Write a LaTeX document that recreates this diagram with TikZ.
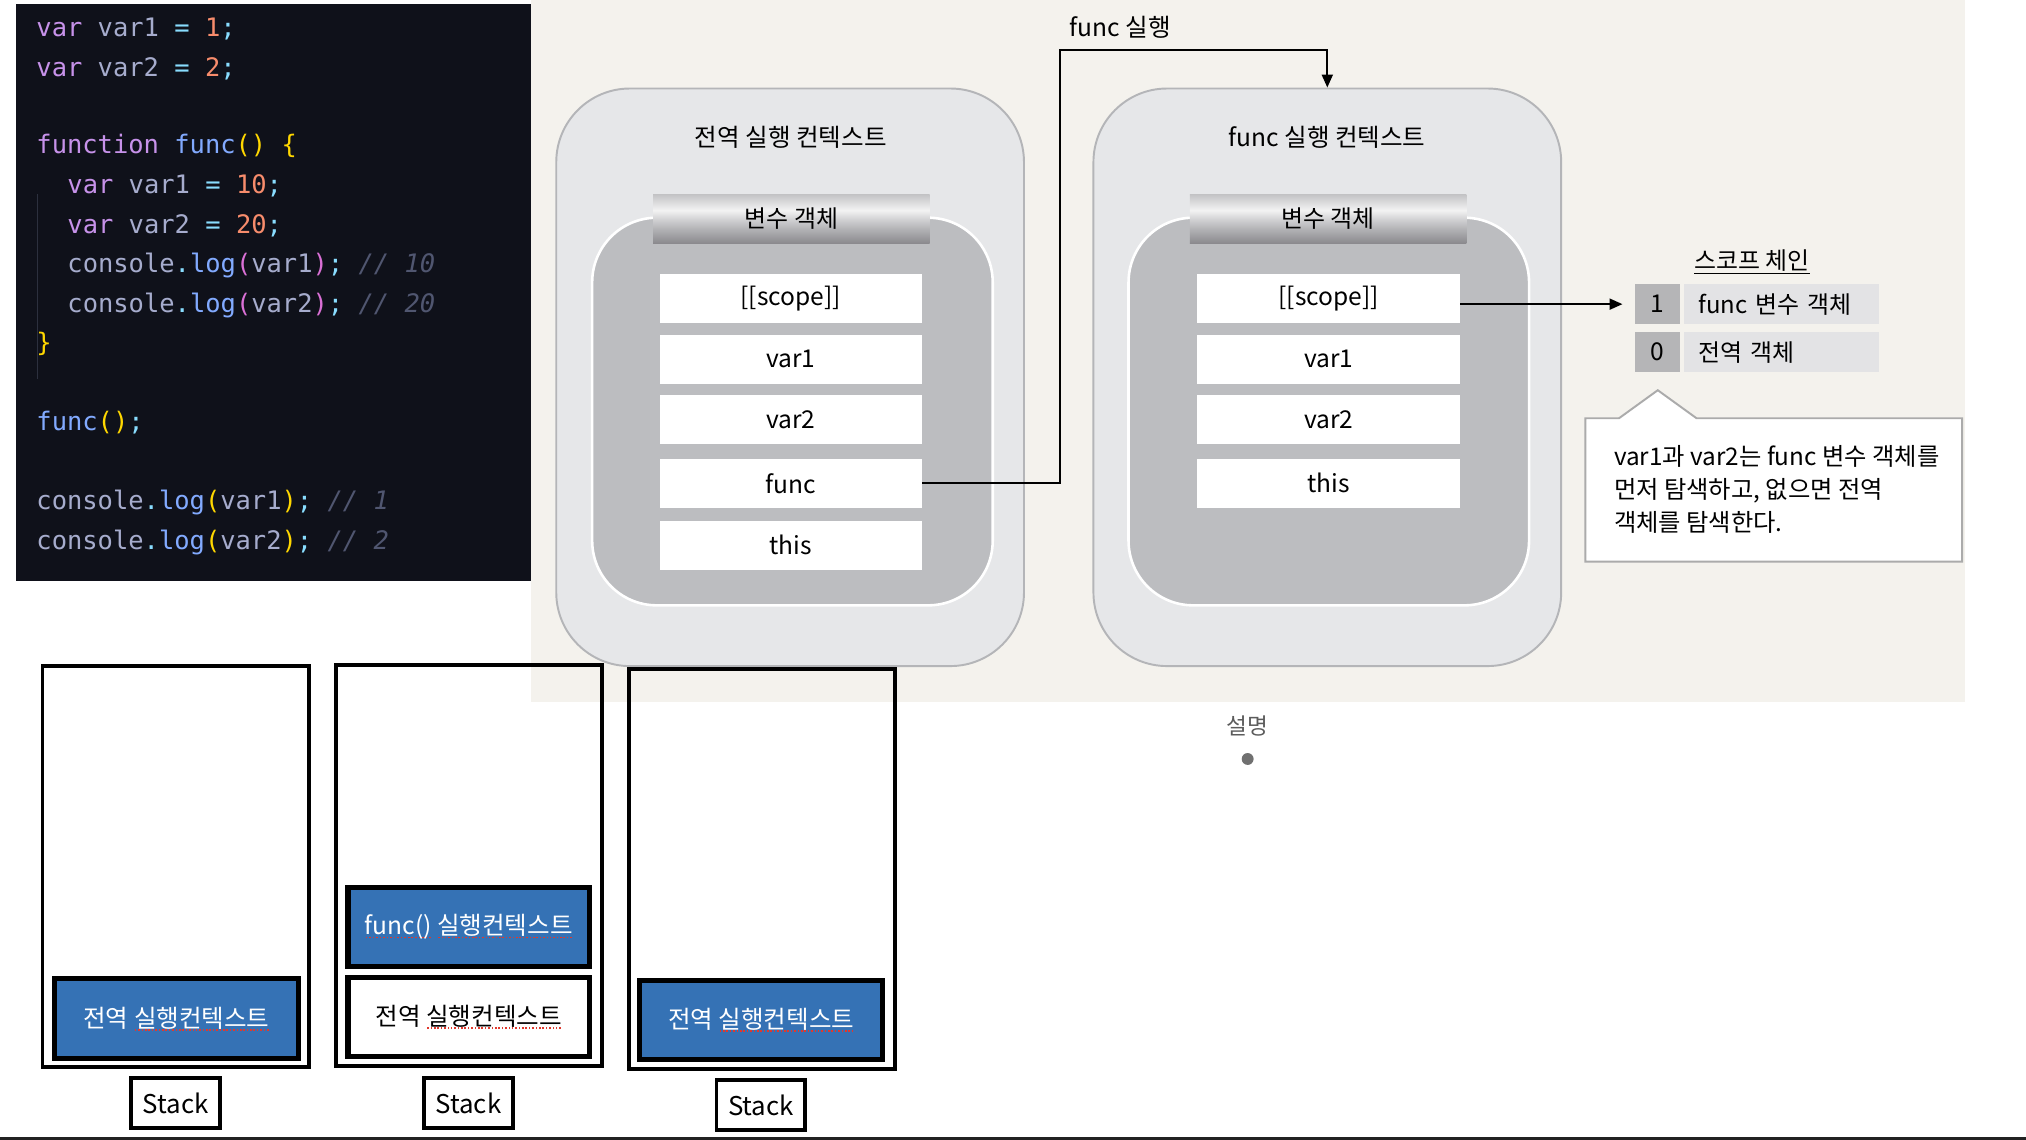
\documentclass[tikz,border=0pt]{standalone}
\usepackage{fontspec}
\setmainfont{Noto Sans CJK KR}
\newfontfamily\codefont{DejaVu Sans Mono}
\usetikzlibrary{arrows.meta}

\definecolor{paper}{HTML}{F4F2ED}
\definecolor{codebg}{HTML}{0F111A}
\definecolor{guide}{HTML}{2C303E}
\definecolor{ckw}{HTML}{C792EA}
\definecolor{cid}{HTML}{A6ACCD}
\definecolor{cop}{HTML}{89DDFF}
\definecolor{cnum}{HTML}{F78C6C}
\definecolor{cfn}{HTML}{82AAFF}
\definecolor{cbr}{HTML}{FFD700}
\definecolor{cbrb}{HTML}{DA70D6}
\definecolor{ccom}{HTML}{505670}
\definecolor{ctxfill}{HTML}{E6E7E9}
\definecolor{ctxline}{HTML}{B4B5B8}
\definecolor{innerfill}{HTML}{BCBDC0}
\definecolor{numcell}{HTML}{B5B5B7}
\definecolor{labcell}{HTML}{E3E3E5}
\definecolor{calloutline}{HTML}{ABABAB}
\definecolor{stackblue}{HTML}{3572B5}
\definecolor{spellred}{HTML}{E0392E}
\definecolor{explgray}{HTML}{5C5C5C}
\definecolor{dotgray}{HTML}{707070}
\definecolor{bottomline}{HTML}{222222}
\definecolor{mtA}{HTML}{8A898D}
\definecolor{mtB}{HTML}{B3B3B6}
\definecolor{mtC}{HTML}{D2D2D4}
\definecolor{mtD}{HTML}{F3F3F3}
\definecolor{mtE}{HTML}{C4C4C6}

\pgfdeclareverticalshading{metalbar}{100bp}{color(0bp)=(mtA); color(25bp)=(mtA); color(40bp)=(mtB); color(50bp)=(mtC); color(59bp)=(mtD); color(75bp)=(mtE); color(100bp)=(mtE)}

\newcommand\cKw[1]{\textcolor{ckw}{#1}}
\newcommand\cId[1]{\textcolor{cid}{#1}}
\newcommand\cOp[1]{\textcolor{cop}{#1}}
\newcommand\cNum[1]{\textcolor{cnum}{#1}}
\newcommand\cFn[1]{\textcolor{cfn}{#1}}
\newcommand\cBr[1]{\textcolor{cbr}{#1}}
\newcommand\cBrB[1]{\textcolor{cbrb}{#1}}
\newcommand\cCom[1]{\textcolor{ccom}{\itshape #1}}

\newcommand\spellmark[1]{\setbox0=\hbox{#1}\rlap{\raisebox{-2.6pt}{\textcolor{spellred}{\hbox to \wd0{\xleaders\hbox to 2.6pt{\hss\rule{1.2pt}{1.2pt}\hss}\hfill}}}}\box0\relax}

\tikzset{
  codeline/.style={anchor=base west, inner sep=0pt, font=\codefont\fontsize{19.7}{24}\selectfont},
  ctxbox/.style={draw=ctxline, fill=ctxfill, line width=1.5pt, rounded corners=57pt, minimum width=362pt, minimum height=447pt, inner sep=0pt},
  innerbox/.style={draw=white, fill=innerfill, line width=2pt, rounded corners=50pt, minimum width=310pt, minimum height=300pt, inner sep=0pt},
  hdr/.style={shading=metalbar, minimum width=214pt, minimum height=37.7pt, inner sep=0pt, font=\fontsize{18.5}{22}\selectfont},
  row/.style={fill=white, minimum width=203pt, minimum height=38pt, inner sep=0pt, font=\fontsize{19}{22}\selectfont},
  ttl/.style={inner sep=0pt, font=\fontsize{19}{22}\selectfont},
  conn/.style={line width=1.5pt, -{Triangle[length=10pt,width=8.5pt]}},
  numc/.style={fill=numcell, minimum width=34.6pt, minimum height=31.2pt, inner sep=0pt, font=\fontsize{19}{22}\selectfont},
  labc/.style={fill=labcell, minimum height=31.2pt, inner ysep=0pt, inner xsep=11.5pt, text width=128pt, align=left, font=\fontsize{18.5}{22}\selectfont},
  stackframe/.style={draw=black, line width=3pt, inner sep=0pt},
  ctxblue/.style={draw=black, fill=stackblue, text=white, line width=4pt, inner sep=0pt, font=\fontsize{19}{22}\selectfont},
  ctxwhite/.style={draw=black, fill=white, text=black, line width=4pt, inner sep=0pt, font=\fontsize{19}{22}\selectfont},
  stacklabel/.style={draw=black, fill=white, line width=3pt, minimum width=68.8pt, minimum height=38.8pt, inner sep=0pt, font=\fontsize{20}{24}\selectfont}
}

\begin{document}
\begin{tikzpicture}[x=1pt, y=-1pt]
\useasboundingbox (0,0) rectangle (1568,882);
\fill[white] (0,0) rectangle (1568,882);
\fill[paper] (411,0) rectangle (1521,543);

% code panel
\node[fill=codebg, minimum width=399pt, minimum height=447pt, inner sep=0pt] (code) at (211.5,226.5) {};
\draw[guide, line width=1pt] (29,150) -- (29,293);
\node[codeline] (c1) at (28,28) {\cKw{var} \cId{var1} \cOp{=} \cNum{1}\cOp{;}};
\node[codeline] (c2) at (28,59) {\cKw{var} \cId{var2} \cOp{=} \cNum{2}\cOp{;}};
\node[codeline] (c3) at (28,119) {\cKw{function} \cFn{func}\cBr{()} \cBr{\{}};
\node[codeline] (c4) at (52,150) {\cKw{var} \cId{var1} \cOp{=} \cNum{10}\cOp{;}};
\node[codeline] (c5) at (52,181) {\cKw{var} \cId{var2} \cOp{=} \cNum{20}\cOp{;}};
\node[codeline] (c6) at (52,211) {\cId{console}\cOp{.}\cFn{log}\cBrB{(}\cId{var1}\cBrB{)}\cOp{;} \cCom{// 10}};
\node[codeline] (c7) at (52,242) {\cId{console}\cOp{.}\cFn{log}\cBrB{(}\cId{var2}\cBrB{)}\cOp{;} \cCom{// 20}};
\node[codeline] (c8) at (28,272) {\cBr{\}}};
\node[codeline] (c9) at (28,333) {\cFn{func}\cBr{()}\cOp{;}};
\node[codeline] (c10) at (28,394) {\cId{console}\cOp{.}\cFn{log}\cBr{(}\cId{var1}\cBr{)}\cOp{;} \cCom{// 1}};
\node[codeline] (c11) at (28,425) {\cId{console}\cOp{.}\cFn{log}\cBr{(}\cId{var2}\cBr{)}\cOp{;} \cCom{// 2}};

% global execution context
\node[ctxbox] (gctx) at (611.5,292) {};
\node[ttl] (gtitle) at (612,106) {전역 실행 컨텍스트};
\node[innerbox] (ginner) at (613.3,318.5) {};
\node[hdr] (ghdr) at (612.5,169.5) {변수 객체};
\node[row] (g-scope) at (612,231) {[[scope]]};
\node[row] (g-var1) at (612,278) {var1};
\node[row] (g-var2) at (612,325) {var2};
\node[row] (g-func) at (612,374) {func};
\node[row] (g-this) at (612,422) {this};

% func execution context
\node[ctxbox] (fctx) at (1027.25,292) {};
\node[ttl] (ftitle) at (1027,106) {func 실행 컨텍스트};
\node[innerbox] (finner) at (1028.4,318.5) {};
\node[hdr] (fhdr) at (1027.8,169.5) {변수 객체};
\node[row] (f-scope) at (1028.25,231) {[[scope]]};
\node[row] (f-var1) at (1028.25,278) {var1};
\node[row] (f-var2) at (1028.25,325) {var2};
\node[row] (f-this) at (1028.25,374) {this};

% func call connector
\node[ttl] (flabel) at (867,21) {func 실행};
\coordinate (bend) at (820.5,38.7);
\draw[conn] (g-func.east) -| (bend) -| (fctx.north);

% scope chain
\node[ttl, font=\fontsize{18.5}{22}\selectfont] (sct) at (1356,202) {스코프 체인};
\draw[line width=1.1pt] ([yshift=-1.2pt]sct.south west) -- ([yshift=-1.2pt]sct.south east);
\node[numc] (num1) at (1282.7,235.4) {1};
\node[labc] (lab1) at (1378.5,235.4) {func 변수 객체};
\node[numc] (num0) at (1282.7,272.5) {0};
\node[labc] (lab0) at (1378.5,272.5) {전역 객체};
\draw[conn, shorten >=9.5pt] (f-scope.east |- num1.west) -- (num1.west);

% callout
\filldraw[fill=white, draw=calloutline, line width=1.5pt] (1227,323.7) -- (1253,323.7) -- (1283,302) -- (1313,323.7) -- (1518.5,323.7) -- (1518.5,434.7) -- (1227,434.7) -- cycle;
\node[anchor=west, align=left, inner sep=0pt, font=\fontsize{18.8}{25.4}\selectfont] (note) at (1249,379) {var1과 var2는 func 변수 객체를\\먼저 탐색하고, 없으면 전역\\객체를 탐색한다.};

% explanation
\node[inner sep=0pt, text=explgray, font=\fontsize{17.5}{21}\selectfont] (expl) at (965.5,562) {설명};
\node[circle, fill=dotgray, minimum size=9.2pt, inner sep=0pt] (dot) at (965.6,587.4) {};

% stacks
\node[stackframe, minimum width=206.3pt, minimum height=310.4pt] (stk1) at (136.05,670.6) {};
\node[ctxblue, minimum width=188.3pt, minimum height=61.8pt] (s1g) at (136.55,788.5) {전역 \spellmark{실행컨텍스트}};
\node[stacklabel] (lbl1) at (136.1,853.7) {Stack};

\node[stackframe, minimum width=205.8pt, minimum height=309.9pt] (stk2) at (362.7,669.85) {};
\node[ctxblue, minimum width=186.9pt, minimum height=61pt] (s2f) at (362.75,717.5) {\spellmark{func()} \spellmark{실행컨텍스트}};
\node[ctxwhite, minimum width=186.9pt, minimum height=61.3pt] (s2g) at (362.75,787.25) {전역 \spellmark{실행컨텍스트}};
\node[stacklabel] (lbl2) at (362.5,853.7) {Stack};

\node[stackframe, minimum width=206pt, minimum height=309.5pt] (stk3) at (589.5,672.75) {};
\node[ctxblue, minimum width=187.8pt, minimum height=61.5pt] (s3g) at (589.1,789.45) {전역 \spellmark{실행컨텍스트}};
\node[stacklabel] (lbl3) at (588.9,855.45) {Stack};

\draw[bottomline, line width=2pt] (0,881) -- (1568,881);
\end{tikzpicture}
\end{document}
